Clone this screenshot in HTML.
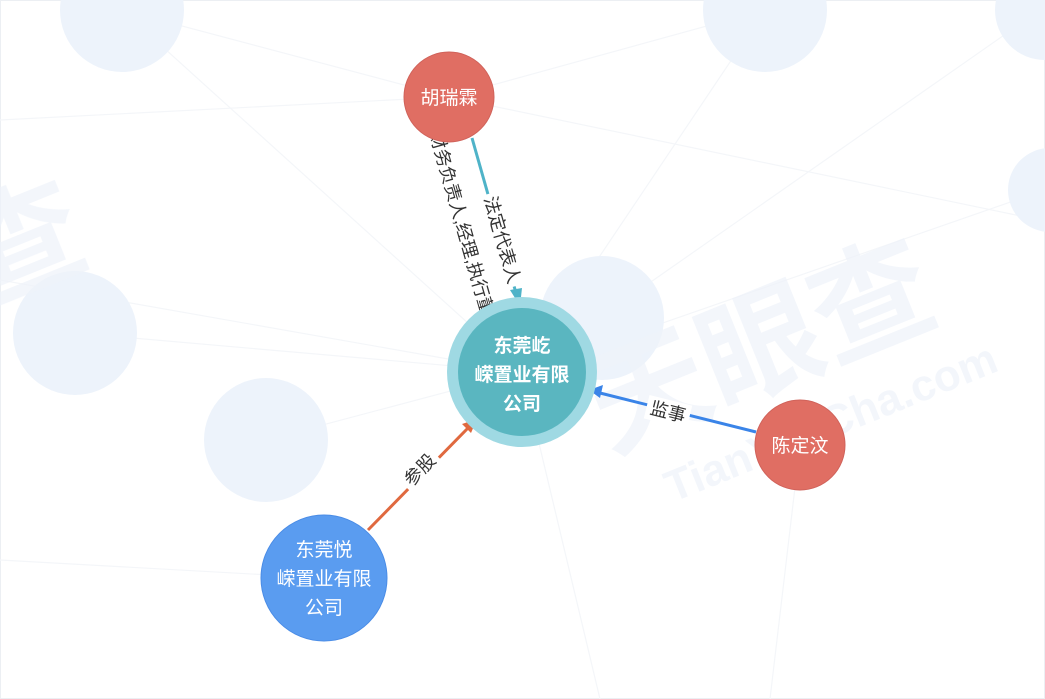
<!DOCTYPE html>
<html><head><meta charset="utf-8"><style>
html,body{margin:0;padding:0;background:#fff;}
svg{display:block;font-family:"Liberation Sans","Noto Sans CJK SC",sans-serif;}
</style></head><body>
<svg width="1045" height="699" viewBox="0 0 1045 699">
<rect x="0.5" y="0.5" width="1044" height="698" fill="#fff" stroke="#eceff3"/>
<g stroke="#f4f6f9" stroke-width="1.2" fill="none">
<line x1="122" y1="10" x2="522" y2="372"/><line x1="765" y1="10" x2="522" y2="372"/>
<line x1="1040" y1="10" x2="522" y2="372"/><line x1="75" y1="333" x2="522" y2="372"/>
<line x1="266" y1="440" x2="522" y2="372"/><line x1="1045" y1="190" x2="522" y2="372"/>
<line x1="449" y1="97" x2="0" y2="120"/><line x1="449" y1="97" x2="765" y2="10"/>
<line x1="449" y1="97" x2="122" y2="10"/><line x1="449" y1="97" x2="1040" y2="220"/>
<line x1="800" y1="445" x2="770" y2="699"/><line x1="522" y1="372" x2="600" y2="699"/>
<line x1="324" y1="578" x2="0" y2="560"/><line x1="522" y1="372" x2="0" y2="280"/>
</g>
<g fill="#edf3fb">
<circle cx="122" cy="10" r="62"/><circle cx="765" cy="10" r="62"/><circle cx="1045" cy="10" r="50"/>
<circle cx="75" cy="333" r="62"/><circle cx="266" cy="440" r="62"/><circle cx="602" cy="318" r="62"/>
<circle cx="1050" cy="190" r="42"/>
</g>
<g fill="#eef3fa" opacity="0.7" font-weight="bold">
<text x="560" y="400" font-size="120" transform="rotate(-22 720 300)">天眼查</text>
<text x="600" y="470" font-size="44" transform="rotate(-22 720 300)">TianYanCha.com</text>
<text x="-40" y="270" font-size="120" transform="rotate(-22 60 230)">查</text>
</g>
<!-- edges -->
<line x1="472" y1="138" x2="516" y2="293" stroke="#4fb3c8" stroke-width="3"/>
<polygon points="520,306 510,290 522,288" fill="#4fb3c8"/>
<line x1="756" y1="432" x2="600" y2="393" stroke="#3a84e8" stroke-width="3"/>
<polygon points="589,390 603,385 600,398" fill="#3a84e8"/>
<line x1="368" y1="530" x2="468" y2="428" stroke="#e0693f" stroke-width="3"/>
<polygon points="477,419 471,433 462,424" fill="#e0693f"/>
<!-- labels -->
<g font-size="18" fill="#333">
<rect x="-48" y="-12" width="96" height="24" fill="#fff" transform="translate(502,240) rotate(74)"/>
<text x="0" y="6" text-anchor="middle" transform="translate(502,240) rotate(74)">法定代表人</text>
<text x="0" y="6" text-anchor="middle" transform="translate(464,232) rotate(74)">财务负责人,经理,执行董事</text>
<rect x="-22" y="-12" width="44" height="24" fill="#fff" transform="translate(668,412) rotate(14)"/>
<text x="0" y="6" text-anchor="middle" transform="translate(668,412) rotate(14)">监事</text>
<rect x="-22" y="-12" width="44" height="24" fill="#fff" transform="translate(420,470) rotate(-46)"/>
<text x="0" y="6" text-anchor="middle" transform="translate(420,470) rotate(-46)">参股</text>
</g>
<!-- nodes -->
<circle cx="522" cy="372" r="75" fill="#9fd9e3"/>
<circle cx="522" cy="372" r="64" fill="#5ab6c0"/>
<g fill="#fff" font-size="19" font-weight="bold" text-anchor="middle">
<text x="522" y="352">东莞屹</text><text x="522" y="381">嵘置业有限</text><text x="522" y="410">公司</text>
</g>
<circle cx="449" cy="97" r="45" fill="#e06e63" stroke="#d0625a"/>
<text x="449" y="104" fill="#fff" font-size="19" text-anchor="middle">胡瑞霖</text>
<circle cx="800" cy="445" r="45" fill="#e06e63" stroke="#d0625a"/>
<text x="800" y="452" fill="#fff" font-size="19" text-anchor="middle">陈定汶</text>
<circle cx="324" cy="578" r="63" fill="#5a9cf0" stroke="#4a8ce6"/>
<g fill="#fff" font-size="19" text-anchor="middle">
<text x="324" y="556">东莞悦</text><text x="324" y="585">嵘置业有限</text><text x="324" y="614">公司</text>
</g>
</svg>
</body></html>
